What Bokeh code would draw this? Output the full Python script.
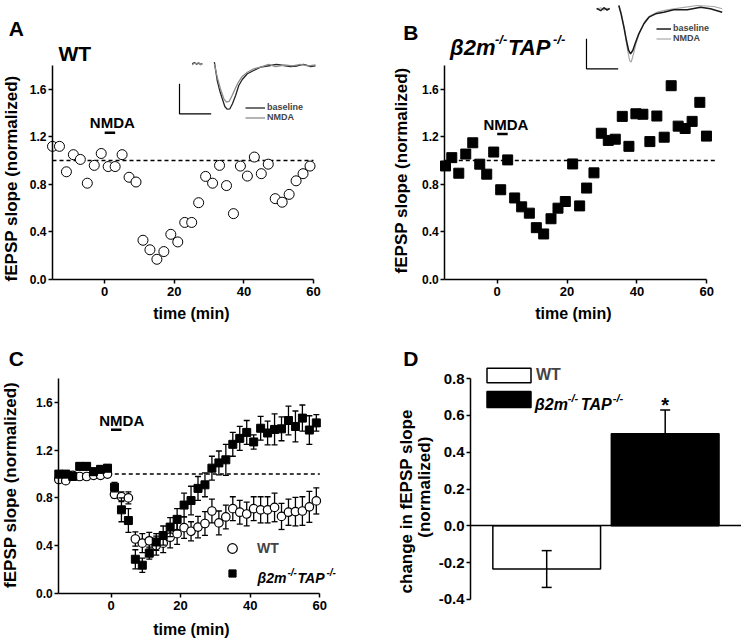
import math
from bokeh.plotting import figure
from bokeh.models import Range1d, FixedTicker, NumeralTickFormatter, Label, Legend, LegendItem
from bokeh.layouts import row, column
from bokeh.embed import file_html
from bokeh.resources import INLINE

FONT = "Liberation Sans"
NAN = float("nan")

# ---------------- data ----------------
t_odd = [-15, -13, -11, -9, -7, -5, -3, -1, 1, 3, 5, 7, 9, 11, 13, 15, 17, 19, 21, 23,
         25, 27, 29, 31, 33, 35, 37, 39, 41, 43, 45, 47, 49, 51, 53, 55, 57, 59]

# Panel A: single WT slice
wt_single = [1.12, 1.12, 0.906, 1.05, 1.01, 0.81, 0.96, 1.06, 0.95, 0.95, 1.05, 0.86, 0.82,
             0.33, 0.25, 0.17, 0.235, 0.38, 0.316, 0.48, 0.48, 0.646, 0.867, 0.81, 0.96,
             0.79, 0.554, 0.954, 0.87, 1.03, 0.89, 0.97, 0.68, 0.65, 0.716, 0.83, 0.89, 0.954]

# Panel B: single knockout slice
ko_single_t = [-14.8, -13, -11, -9, -7, -5, -3, -1, 1, 3, 5, 7, 9.2, 11.2, 13.3, 15.4, 17.4,
               19.5, 21.6, 23.6, 25.6, 27.7, 29.8, 31.8, 33.8, 35.8, 37.7, 39.7, 41.7, 43.7,
               45.7, 47.8, 49.8, 51.8, 53.8, 55.8, 58, 59.9]
ko_single = [0.955, 1.025, 0.894, 1.055, 1.15, 0.97, 0.886, 1.072, 0.755, 1.006, 0.686, 0.611,
             0.558, 0.436, 0.383, 0.511, 0.60, 0.656, 0.972, 0.619, 0.769, 0.897, 1.23, 1.17,
             1.18, 1.372, 1.12, 1.394, 1.39, 1.16, 1.375, 1.197, 1.63, 1.29, 1.27, 1.33, 1.49, 1.206]

# Panel C: group means +/- SEM
wt_mean = [0.955, 0.945, 0.99, 0.98, 0.98, 0.99, 0.99, 1.0,
           0.83, 0.81, 0.80, 0.455, 0.42, 0.44, 0.40, 0.42, 0.47, 0.50, 0.55, 0.52, 0.555,
           0.585, 0.69, 0.59, 0.64, 0.71, 0.68, 0.665, 0.71, 0.70, 0.70, 0.72, 0.645, 0.68,
           0.685, 0.69, 0.725, 0.775]
wt_sem = [0.02, 0.02, 0.02, 0.02, 0.02, 0.02, 0.02, 0.02,
          0.03, 0.04, 0.05, 0.06, 0.08, 0.07, 0.08, 0.08, 0.09, 0.09, 0.09, 0.08, 0.09, 0.10,
          0.10, 0.10, 0.10, 0.10, 0.10, 0.10, 0.10, 0.11, 0.11, 0.12, 0.11, 0.11, 0.12, 0.12,
          0.13, 0.11]
ko_mean = [1.0, 1.0, 0.98, 1.065, 1.065, 1.02, 1.04, 1.05,
           0.89, 0.70, 0.61, 0.285, 0.235, 0.336, 0.43, 0.484, 0.555, 0.62, 0.74, 0.778, 0.88,
           0.91, 1.05, 1.094, 1.12, 1.25, 1.30, 1.35, 1.27, 1.385, 1.345, 1.375, 1.38, 1.45,
           1.40, 1.47, 1.37, 1.43]
ko_sem = [0.03, 0.03, 0.03, 0.03, 0.03, 0.03, 0.03, 0.03,
          0.04, 0.10, 0.10, 0.08, 0.06, 0.05, 0.07, 0.08, 0.08, 0.09, 0.10, 0.12, 0.10, 0.10,
          0.10, 0.10, 0.13, 0.10, 0.10, 0.10, 0.06, 0.10, 0.10, 0.13, 0.10, 0.12, 0.13, 0.11,
          0.12, 0.07]

# Panel D: change in fEPSP slope
groups = ["WT", "β2m-/-TAP-/-"]
group_pos = [1, 2]
change = [-0.235, 0.50]
change_sem = [0.10, 0.13]

nmda_on = [0, 3]
x_ticks = [0, 20, 40, 60]
y_ticks = [0.0, 0.4, 0.8, 1.2, 1.6]
d_ticks = [-0.4, -0.2, 0.0, 0.2, 0.4, 0.6, 0.8]

# Inset traces (ms, mV)
a_base_t = [4.0, 4.7, 5.4, 6.0, 6.6, 7.2, NAN, 11.0, 11.5, 11.9, 12.7, 13.5, 14.3, 15.0, 15.9,
            16.7, 17.7, 18.7, 19.8, 21.4, 23.4, 25.6, 28.7, 30.6, 32.9, 35.0, 37.1, 39.1, 40.3,
            41.3, 42.9]
a_base_v = [0.03, 0.05, 0.02, 0.04, 0.02, 0.03, NAN, 0.055, -0.11, -0.25, -0.42, -0.555,
            -0.683, -0.728, -0.722, -0.638, -0.50, -0.333, -0.233, -0.138, -0.083, -0.028, 0.0,
            0.017, 0.0, -0.017, -0.008, 0.017, 0.0, -0.017, -0.008]
a_nmda_t = [4.0, 4.7, 5.4, 6.0, 6.6, 7.2, NAN, 11.0, 11.9, 12.9, 14.0, 14.8, 15.7, 16.6, 17.7,
            18.7, 19.8, 21.4, 23.4, 25.6, 28.1, 30.3, 33.1, 35.6, 38.2, 40.7, 42.9]
a_nmda_v = [0.01, 0.04, 0.03, 0.05, 0.01, 0.03, NAN, 0.028, -0.195, -0.388, -0.555, -0.612,
            -0.595, -0.50, -0.372, -0.267, -0.183, -0.112, -0.055, -0.028, 0.017, -0.017,
            0.008, -0.008, 0.017, -0.008, 0.008]
b_base_t = [3.2, 4.5, 5.5, 6.5, 7.3, NAN, 10.2, 10.9, 11.8, 12.6, 13.3, 13.9, 14.6, 15.5, 16.5,
            18.1, 19.7, 21.8, 24.4, 27.5, 31.8, 36.0, 39.1, 42.8]
b_base_v = [0.02, -0.02, 0.03, -0.01, 0.02, NAN, 0.067, -0.072, -0.295, -0.517, -0.683,
            -0.738, -0.683, -0.545, -0.405, -0.238, -0.128, -0.072, -0.045, -0.005, -0.005,
            0.038, 0.012, -0.045]
b_nmda_t = [3.2, 4.5, 5.5, 6.5, 7.3, NAN, 10.2, 10.9, 12.0, 12.8, 13.6, 14.1, 14.7, 15.6, 16.8,
            18.6, 20.2, 22.3, 25.5, 29.7, 34.9, 40.2, 42.8]
b_nmda_v = [0.0, 0.03, -0.01, 0.02, 0.0, NAN, 0.067, -0.045, -0.322, -0.628, -0.85, -0.878,
            -0.767, -0.572, -0.378, -0.183, -0.1, -0.045, -0.005, 0.028, 0.067, 0.05, 0.012]
scale_t = [0, 0, 10]                   # 10 ms
a_scale_v = [-0.305, -0.805, -0.805]   # 0.5 mV
b_scale_v = [-0.488, -0.988, -0.988]


# ---------------- helpers ----------------
def base_fig(xr, yr, w, h):
    p = figure(x_range=xr, y_range=yr, frame_width=w, frame_height=h,
               min_border_left=0, min_border_right=0, min_border_top=0, min_border_bottom=0,
               toolbar_location=None, tools="", output_backend="svg")
    p.xgrid.visible = False
    p.ygrid.visible = False
    p.outline_line_color = None
    p.background_fill_color = "white"
    p.border_fill_color = "white"
    return p


def style_axis(ax, size, ticks, fmt=None, standoff=2):
    ax.ticker = FixedTicker(ticks=ticks)
    if fmt:
        ax.formatter = NumeralTickFormatter(format=fmt)
    ax.axis_line_width = 1.5
    ax.axis_line_color = "black"
    ax.major_tick_line_width = 1.5
    ax.major_tick_line_color = "black"
    ax.major_tick_out = 4
    ax.major_tick_in = 0
    ax.minor_tick_line_color = None
    ax.major_label_text_font = FONT
    ax.major_label_text_font_style = "bold"
    ax.major_label_text_font_size = f"{size}px"
    ax.major_label_text_color = "black"
    ax.major_label_standoff = standoff


def add_label(p, x, y, text, size, style="bold", align="left", baseline="alphabetic",
              angle=0.0, x_offset=0, y_offset=0):
    p.add_layout(Label(x=x, y=y, text=text, text_font=FONT, text_font_size=f"{size}px",
                       text_font_style=style, text_align=align, text_baseline=baseline,
                       angle=angle, x_offset=x_offset, y_offset=y_offset, text_color="black"))


def ko_label(p, x, y, size, sup, offsets, rise):
    pieces = [("β2m", size, 0), ("-/-", sup, rise), ("TAP", size, 0), ("-/-", sup, rise)]
    for (txt, sz, dy), dx in zip(pieces, offsets):
        add_label(p, x, y, txt, sz, style="bold italic", x_offset=dx, y_offset=dy)


def add_legend(p, items, loc, gw, gh, standoff, size):
    p.add_layout(Legend(items=items, location=loc, glyph_width=gw, glyph_height=gh,
                        label_height=gh, spacing=0, padding=0, margin=0,
                        label_standoff=standoff, label_text_font=FONT,
                        label_text_font_style="bold", label_text_font_size=f"{size}px",
                        border_line_color=None, background_fill_alpha=0))


def time_axes(p, x_start):
    style_axis(p.xaxis[0], 13, x_ticks, standoff=4)
    style_axis(p.yaxis[0], 12, y_ticks, "0.0", standoff=2)
    p.xaxis.fixed_location = 0
    p.xaxis.bounds = (x_start, x_ticks[-1])
    p.yaxis.fixed_location = x_start
    p.yaxis.bounds = (0, 1.8)


# ---------------- Panel A ----------------
pA = base_fig(Range1d(-29.943, 76.667), Range1d(-0.3701, 2.3467), 371, 323)
time_axes(pA, -15)
pA.extra_x_ranges = {"ms": Range1d(-56.47, 60.57)}
pA.extra_y_ranges = {"mv": Range1d(-4.3, 1.0833)}

pA.line([-15, 60], [1, 1], line_dash="4 3", line_color="black", line_width=1.5)
pA.scatter(t_odd, wt_single, marker="circle", size=10, fill_color="white",
           line_color="black", line_width=1)
pA.line(nmda_on, [1.235, 1.235], line_color="black", line_width=2.5)
rA_base = pA.line(a_base_t, a_base_v, x_range_name="ms", y_range_name="mv",
                  line_color="#222222", line_width=1.3)
rA_nmda = pA.line(a_nmda_t, a_nmda_v, x_range_name="ms", y_range_name="mv",
                  line_color="#8c8c8c", line_width=1.3)
pA.line(scale_t, a_scale_v, x_range_name="ms", y_range_name="mv",
        line_color="black", line_width=1.2)
add_legend(pA, [LegendItem(label="baseline", renderers=[rA_base]),
                LegendItem(label="NMDA", renderers=[rA_nmda])], (245, 201), 20, 9, 2, 9)

add_label(pA, -27.56, 2.111, "A", 21)
add_label(pA, -13.28, 1.901, "WT", 21)
add_label(pA, 2.2, 1.32, "NMDA", 15, align="center")
add_label(pA, 24.9, -0.29, "time (min)", 16, align="center")
add_label(pA, -26.9, 0.85, "fEPSP slope (normalized)", 17, align="center",
          baseline="middle", angle=math.pi / 2)

# ---------------- Panel B ----------------
pB = base_fig(Range1d(-35.983, 69.93), Range1d(-0.3701, 2.3467), 370, 323)
time_axes(pB, -15)
pB.extra_x_ranges = {"ms": Range1d(-67.82, 48.9)}
pB.extra_y_ranges = {"mv": Range1d(-5.233, 0.15)}

pB.line([-15, 63], [1, 1], line_dash="4 3", line_color="black", line_width=1.5)
pB.scatter(ko_single_t, ko_single, marker="square", size=10, fill_color="black",
           line_color="black")
pB.line(nmda_on, [1.223, 1.223], line_color="black", line_width=2.5)
rB_nmda = pB.line(b_nmda_t, b_nmda_v, x_range_name="ms", y_range_name="mv",
                  line_color="#a8a8a8", line_width=1.2)
rB_base = pB.line(b_base_t, b_base_v, x_range_name="ms", y_range_name="mv",
                  line_color="#1a1a1a", line_width=1.5)
pB.line(scale_t, b_scale_v, x_range_name="ms", y_range_name="mv",
        line_color="black", line_width=1.2)
add_legend(pB, [LegendItem(label="baseline", renderers=[rB_base]),
                LegendItem(label="NMDA", renderers=[rB_nmda])], (285, 280), 15, 9, 2, 9)

add_label(pB, -26.9, 2.08, "B", 21)
ko_label(pB, -13.5, 1.954, 22, 13, (0, 45, 58, 103), 8)
add_label(pB, 2.5, 1.305, "NMDA", 15, align="center")
add_label(pB, 21.8, -0.29, "time (min)", 16, align="center")
add_label(pB, -27.3, 0.917, "fEPSP slope (normalized)", 17, align="center",
          baseline="middle", angle=math.pi / 2)

# ---------------- Panel C ----------------
pC = base_fig(Range1d(-31.753, 74.856), Range1d(-0.3804, 2.2645), 371, 315)
time_axes(pC, -15)

pC.line([-15, 60], [1, 1], line_dash="4 3", line_color="black", line_width=1.5)
wt_lo = [m - s for m, s in zip(wt_mean, wt_sem)]
wt_hi = [m + s for m, s in zip(wt_mean, wt_sem)]
ko_lo = [m - s for m, s in zip(ko_mean, ko_sem)]
ko_hi = [m + s for m, s in zip(ko_mean, ko_sem)]
pC.segment(t_odd, wt_lo, t_odd, wt_hi, line_color="black", line_width=1.3)
pC.scatter(t_odd + t_odd, wt_lo + wt_hi, marker="dash", size=6, line_color="black", line_width=1.3)
rC_wt = pC.scatter(t_odd, wt_mean, marker="circle", size=8.5, fill_color="white",
                   line_color="black", line_width=1.2)
pC.segment(t_odd, ko_lo, t_odd, ko_hi, line_color="black", line_width=1.3)
pC.scatter(t_odd + t_odd, ko_lo + ko_hi, marker="dash", size=6, line_color="black", line_width=1.3)
rC_ko = pC.scatter(t_odd, ko_mean, marker="square", size=8, fill_color="black",
                   line_color="black")
pC.line(nmda_on, [1.373, 1.373], line_color="black", line_width=2.5)

add_legend(pC, [LegendItem(label="WT", renderers=[rC_wt])], (220, 78), 24, 24, 13, 14)
add_legend(pC, [LegendItem(label=" ", renderers=[rC_ko])], (223, 56), 18, 18, 16, 14)
ko_label(pC, 42.1, 0.126, 14, 10, (0, 30, 40, 69), 6)
add_label(pC, -29.37, 1.971, "C", 21)
add_label(pC, 3.1, 1.45, "NMDA", 15, align="center")
add_label(pC, 23.1, -0.305, "time (min)", 16, align="center")
add_label(pC, -28.9, 0.909, "fEPSP slope (normalized)", 17, align="center",
          baseline="middle", angle=math.pi / 2)

# ---------------- Panel D ----------------
pD = base_fig(Range1d(-0.4785, 2.6439), Range1d(-0.6128, 1.1001), 370, 315)
style_axis(pD.yaxis[0], 15, d_ticks, "0.0", standoff=2)
pD.yaxis.fixed_location = 0.357
pD.yaxis.bounds = (d_ticks[0], d_ticks[-1])
style_axis(pD.xaxis[0], 1, [])
pD.xaxis.fixed_location = 0
pD.xaxis.bounds = (0.357, 2.6439)
pD.xaxis.major_tick_out = 0

r_bars = pD.vbar(x=group_pos, top=change, bottom=0, width=0.909,
                 fill_color=["white", "black"], line_color="black", line_width=1.5)
d_lo = [m - s for m, s in zip(change, change_sem)]
d_hi = [m + s for m, s in zip(change, change_sem)]
pD.segment(group_pos, d_lo, group_pos, d_hi, line_color="black", line_width=1.5)
pD.scatter(group_pos + group_pos, d_lo + d_hi, marker="dash", size=10,
           line_color="black", line_width=1.5)

add_legend(pD, [LegendItem(label=groups[0], renderers=[r_bars], index=0)], (110, 254), 55, 18, 0, 16)
add_legend(pD, [LegendItem(label=" ", renderers=[r_bars], index=1)], (110, 229), 55, 20, 0, 16)
ko_label(pD, 0.9, 0.657, 16, 11, (0, 33, 46, 78), 6.5)
add_label(pD, 2, 0.655, "*", 20, align="center")
add_label(pD, -0.211, 0.908, "D", 21)
add_label(pD, -0.183, 0.133, "change in fEPSP slope", 17, align="center",
          baseline="middle", angle=math.pi / 2)
add_label(pD, -0.029, 0.21, "(normalized)", 17, align="center",
          baseline="middle", angle=math.pi / 2)

layout = column(row(pA, pB), row(pC, pD))
open("out.html", "w").write(file_html(layout, INLINE))
